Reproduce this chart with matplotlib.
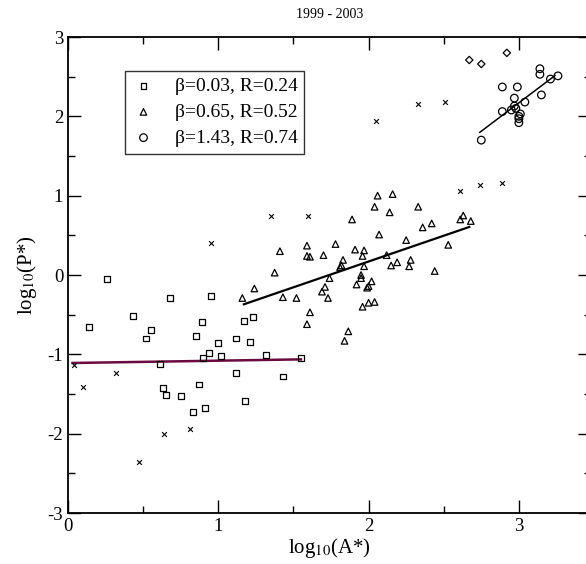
import numpy as np
import matplotlib.pyplot as plt

plt.rcParams['font.family'] = ['Liberation Serif', 'DejaVu Serif']
plt.rcParams['mathtext.fontset'] = 'stix'
plt.rcParams['axes.unicode_minus'] = False

# squares (beta=0.03 group)
sq_x = [0.26, 0.68, 0.95, 0.14, 0.43, 0.89, 1.17, 1.23, 0.55, 0.52, 0.85, 1.00, 1.12, 1.21,
        0.94, 0.90, 1.02, 1.32, 1.55, 0.61, 1.12, 1.43, 0.87, 0.63, 0.65, 0.75, 1.18, 0.91, 0.83]
sq_y = [-0.05, -0.29, -0.27, -0.65, -0.52, -0.59, -0.58, -0.53, -0.69, -0.80, -0.77, -0.86, -0.80, -0.85,
        -0.98, -1.05, -1.02, -1.01, -1.05, -1.12, -1.24, -1.28, -1.38, -1.42, -1.51, -1.53, -1.59, -1.68, -1.73]

# triangles (beta=0.65 group)
tri_x = [1.16, 1.24, 1.375, 1.41, 1.43, 1.52, 1.59, 1.59, 1.61, 1.59, 1.61, 1.69, 1.71, 1.73,
         1.70, 1.74, 1.78, 1.81, 1.83, 1.84, 1.865, 1.89, 1.91, 1.92, 1.95, 1.95, 1.96, 1.96,
         1.97, 1.97, 1.99, 2.00, 2.00, 2.02, 2.04, 2.04, 2.06, 2.07, 2.12, 2.14, 2.15, 2.16,
         2.19, 2.25, 2.27, 2.28, 2.33, 2.36, 2.42, 2.44, 2.53, 2.61, 2.63, 2.68, 1.82]
tri_y = [-0.29, -0.17, 0.03, 0.30, -0.28, -0.29, 0.37, 0.24, 0.23, -0.62, -0.47, -0.21, -0.15, -0.29,
         0.25, -0.04, 0.39, 0.10, 0.19, -0.83, -0.71, 0.70, 0.32, -0.12, 0.00, -0.04, 0.24, -0.40,
         0.31, 0.11, -0.16, -0.14, -0.35, -0.08, -0.34, 0.86, 1.00, 0.51, 0.25, 0.79, 0.12, 1.02,
         0.16, 0.44, 0.11, 0.19, 0.86, 0.60, 0.65, 0.05, 0.38, 0.70, 0.75, 0.68, 0.12]

# circles (beta=1.43 group)
circ_x = [2.75, 3.14, 3.14, 3.26, 3.21, 2.89, 2.99, 3.15, 2.97, 3.04, 2.97, 2.98, 2.95, 2.89,
          3.01, 3.00, 3.00, 3.00]
circ_y = [1.70, 2.60, 2.53, 2.51, 2.47, 2.37, 2.37, 2.27, 2.23, 2.18, 2.13, 2.10, 2.08, 2.06,
          2.03, 2.00, 1.97, 1.92]

# other points
cross_x = [0.04, 0.10, 0.32, 0.64, 0.81, 0.47, 0.95, 1.35, 1.60, 2.05, 2.33, 2.51, 2.61, 2.74, 2.89]
cross_y = [-1.13, -1.41, -1.23, -2.00, -1.94, -2.36, 0.40, 0.75, 0.75, 1.94, 2.15, 2.18, 1.06, 1.14, 1.16]
dia_x = [2.67, 2.75, 2.92]
dia_y = [2.71, 2.66, 2.80]

# fits
fit_beta = [0.03, 0.65, 1.43]
fit_b0 = [-1.11, -1.13, -2.12]
fit_x0 = [0.03, 1.17, 2.74]
fit_x1 = [1.55, 2.67, 3.24]
labels = ['β=0.03, R=0.24', 'β=0.65, R=0.52', 'β=1.43, R=0.74']

fig = plt.figure(figsize=(5.86, 5.64), dpi=100)
ax = fig.add_axes([68/586, 51/564, 523/586, 476/564])

ax.scatter(sq_x, sq_y, marker='s', s=18, facecolors='none', edgecolors='black', linewidths=0.9, label=labels[0], zorder=3)
ax.scatter(tri_x, tri_y, marker='^', s=22, facecolors='none', edgecolors='black', linewidths=0.9, label=labels[1], zorder=3)
ax.scatter(circ_x, circ_y, marker='o', s=30, facecolors='none', edgecolors='black', linewidths=0.9, label=labels[2], zorder=3)
ax.scatter(cross_x, cross_y, marker='x', s=12, color='black', linewidths=0.8, zorder=3)
ax.scatter(dia_x, dia_y, marker='D', s=14, facecolors='none', edgecolors='black', linewidths=0.9, zorder=3)

line_colors = ['#6a0a40', 'black', 'black']
line_widths = [1.8, 1.6, 1.1]
for i in range(3):
    xx = np.array([fit_x0[i], fit_x1[i]])
    ax.plot(xx, fit_b0[i] + fit_beta[i] * xx, color=line_colors[i], lw=line_widths[i], zorder=2)

ax.set_xlim(0, 3.48)
ax.set_ylim(-3, 3)
ax.set_xticks([0, 1, 2, 3])
ax.set_xticks([0.5, 1.5, 2.5], minor=True)
ax.set_yticks([-3, -2, -1, 0, 1, 2, 3])
ax.set_yticks(np.arange(-2.5, 3, 1), minor=True)
ax.tick_params(which='both', direction='in', top=True, right=True, labelsize=13.5, width=1)
ax.tick_params(which='major', length=9.5)
ax.tick_params(which='minor', length=5)
for sp in ax.spines.values():
    sp.set_linewidth(1.3)

ax.set_xlabel('log$_{10}$(A*)', fontsize=15, labelpad=1)
ax.set_ylabel('log$_{10}$(P*)', fontsize=15, labelpad=6)
ax.set_title('1999 - 2003', fontsize=10, pad=14)

leg = ax.legend(loc='upper left', bbox_to_anchor=(0.109, 0.929), borderaxespad=0, fontsize=14,
                frameon=True, fancybox=False, edgecolor='black', handlelength=1.2,
                handletextpad=1.0, borderpad=0.35, labelspacing=0.42, scatterpoints=1)
leg.get_frame().set_linewidth(1.0)

fig.savefig('out.png', dpi=100)
